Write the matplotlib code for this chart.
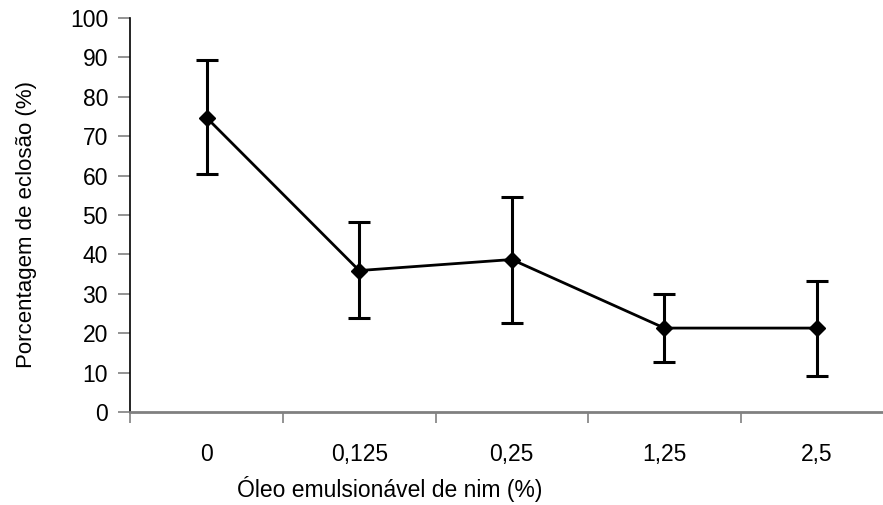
import matplotlib.pyplot as plt

plt.rcParams['font.family'] = ['Liberation Sans', 'DejaVu Sans']

doses = ['0', '0,125', '0,25', '1,25', '2,5']
eclosao = [74.7, 35.9, 38.7, 21.3, 21.3]
erro_sup = [89.3, 48.1, 54.6, 30.0, 33.3]
erro_inf = [60.3, 23.9, 22.7, 12.6, 9.2]

x = list(range(len(doses)))
yerr = [[m - lo for m, lo in zip(eclosao, erro_inf)],
        [hi - m for m, hi in zip(eclosao, erro_sup)]]

fig = plt.figure(figsize=(8.83, 5.05), dpi=100)
W, H = 883, 505
left, right, top, bottom = 130.3, 893.3, 18, 412
ax = fig.add_axes([left / W, 1 - bottom / H, (right - left) / W, (bottom - top) / H])

ax.errorbar(x, eclosao, yerr=yerr, fmt='none', ecolor='black', elinewidth=2.2,
            capsize=8, capthick=2.2, zorder=2)
ax.plot(x, eclosao, color='black', linewidth=2, marker='D', markersize=8.5, zorder=3)

ax.set_xlim(-0.5, len(doses) - 0.5)
ax.set_ylim(0, 100)
ax.set_yticks(range(0, 101, 10))
ax.set_xticks(x)
ax.set_xticklabels(doses, fontsize=16.5)
ax.set_xticks([i - 0.5 for i in range(len(doses) + 1)], minor=True)
ax.tick_params(axis='x', which='major', length=0, pad=22)
ax.tick_params(axis='x', which='minor', length=8, width=1.2, color='#808080', direction='out')
ax.tick_params(axis='y', length=9, width=1.2, color='#808080', direction='out', labelsize=16.5, pad=7)

for s in ['top', 'right']:
    ax.spines[s].set_visible(False)
ax.spines['left'].set_color('black')
ax.spines['left'].set_linewidth(1.2)
ax.spines['bottom'].set_color('#808080')
ax.spines['bottom'].set_linewidth(2)

fig.text(27 / W, 1 - 225 / H, 'Porcentagem de eclosão (%)', rotation=90,
         ha='center', va='center', fontsize=16)
fig.text(390 / W, 1 - 489 / H, 'Óleo emulsionável de nim (%)',
         ha='center', va='center', fontsize=16.5)

fig.savefig('out.png', dpi=100)
